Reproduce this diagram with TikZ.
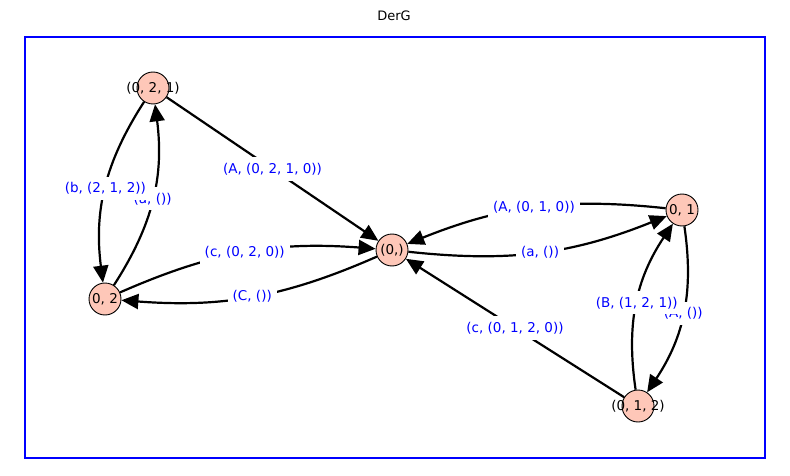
\documentclass[tikz,border=0pt]{standalone}
\usepackage{fontspec}
\setmainfont{DejaVu Sans}
\usetikzlibrary{arrows.meta}
\definecolor{vfill}{HTML}{FEC7B8}
\begin{document}
\begin{tikzpicture}[x=1pt,y=-1pt,
  vert/.style={circle,draw=black,line width=0.9pt,fill=vfill,minimum size=32pt,inner sep=0pt},
  vlab/.style={font=\fontsize{13.5}{16}\selectfont,text=black,inner sep=0pt},
  edge/.style={line width=2.2pt,-{Triangle[length=17pt,width=15pt]}},
  elab/.style={font=\fontsize{13.5}{16}\selectfont,text=blue,fill=white,inner xsep=5pt,inner ysep=5.5pt}]
\useasboundingbox (0,0) rectangle (790,476);
\node[font=\fontsize{13}{15}\selectfont] (title) at (394,16) {DerG};
\node[draw=blue,line width=1.5pt,minimum width=740pt,minimum height=421pt,inner sep=0pt] (frame) at (395,247.5) {};
% vertices
\node[vert] (n021) at (153,88) {};
\node[vert] (n02) at (105,299) {};
\node[vert] (n0) at (392,250) {};
\node[vert] (n01) at (682,210) {};
\node[vert] (n012) at (638,406) {};
% edges
\draw[edge] (n021) -- coordinate[pos=0.5] (m1) (n0);
\draw[edge] (n021) to[bend right=20] coordinate[pos=0.5] (m2) (n02);
\draw[edge] (n02) to[bend right=20] coordinate[pos=0.5] (m3) (n021);
\draw[edge] (n02) to[bend left=14] coordinate[pos=0.5] (m4) (n0);
\draw[edge] (n0) to[bend left=14] coordinate[pos=0.5] (m5) (n02);
\draw[edge] (n01) to[bend right=14] coordinate[pos=0.5] (m6) (n0);
\draw[edge] (n0) to[bend right=14] coordinate[pos=0.5] (m7) (n01);
\draw[edge] (n012) -- coordinate[pos=0.5] (m8) (n0);
\draw[edge] (n012) to[bend left=21] coordinate[pos=0.5] (m9) (n01);
\draw[edge] (n01) to[bend left=21] coordinate[pos=0.5] (m10) (n012);
% edge labels
\node[elab] (l1) at (m1) {(A, (0, 2, 1, 0))};
\node[elab] (l3) at (m3) {(a, ())};
\node[elab] (l2) at (m2) {(b, (2, 1, 2))};
\node[elab] (l4) at (m4) {(c, (0, 2, 0))};
\node[elab] (l5) at (m5) {(C, ())};
\node[elab] (l6) at (m6) {(A, (0, 1, 0))};
\node[elab] (l7) at (m7) {(a, ())};
\node[elab] (l8) at (m8) {(c, (0, 1, 2, 0))};
\node[elab] (l10) at (m10) {(A, ())};
\node[elab] (l9) at (m9) {(B, (1, 2, 1))};
% vertex labels
\node[vlab] (t021) at (n021) {(0, 2, 1)};
\node[vlab] (t02) at (n02) {0, 2};
\node[vlab] (t0) at (n0) {(0,)};
\node[vlab] (t01) at (n01) {0, 1};
\node[vlab] (t012) at (n012) {(0, 1, 2)};
\end{tikzpicture}
\end{document}
